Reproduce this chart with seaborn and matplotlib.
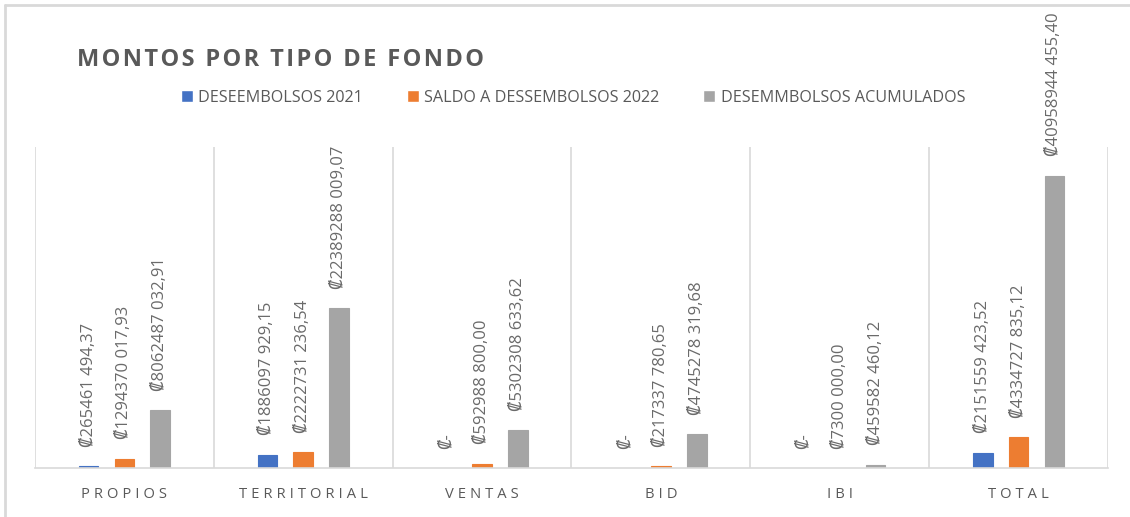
import pandas as pd
import matplotlib
matplotlib.use("Agg")
import matplotlib.pyplot as plt
import seaborn as sns
from matplotlib.lines import Line2D

# Data
categories = ["PROPIOS", "TERRITORIAL", "VENTAS", "BID", "IBI", "TOTAL"]
series = ["DESEEMBOLSOS 2021", "SALDO A DESSEMBOLSOS 2022", "DESEMMBOLSOS ACUMULADOS"]
desembolsos_2021 = [265461494.37, 1886097929.15, 0, 0, 0, 2151559423.52]
saldo_2022 = [1294370017.93, 2222731236.54, 592988800.00, 217337780.65, 7300000.00, 4334727835.12]
acumulados = [8062487032.91, 22389288009.07, 5302308633.62, 4745278319.68, 459582460.12, 40958944455.40]
colors = ["#4472C4", "#ED7D31", "#A5A5A5"]

TXT = "#595959"


def colones(v):
    # Excel style label: ₡265461 494,37
    if v == 0:
        return "\u20a1-"
    cents = int(round(v * 100))
    ent, dec = divmod(cents, 100)
    return f"\u20a1{ent // 1000} {ent % 1000:03d},{dec:02d}"


def spaced(s, sep="\u2009"):
    return sep.join(s)


df = pd.DataFrame({
    "cat": categories * 3,
    "serie": sum([[s] * len(categories) for s in series], []),
    "valor": desembolsos_2021 + saldo_2022 + acumulados,
})

sns.set_style("white")
plt.rcParams["font.family"] = ["Open Sans", "DejaVu Sans"]

fig = plt.figure(figsize=(11.3, 5.17), dpi=100)
ax = fig.add_axes([35 / 1130, 49 / 517, 1073 / 1130, 321 / 517])

sns.barplot(data=df, x="cat", y="valor", hue="serie", hue_order=series,
            order=categories, palette=colors, width=0.6, gap=0.45,
            saturation=1, legend=False, ax=ax)

# thin edge so very small bars still show
for cont in ax.containers:
    for bar in cont:
        if bar.get_height() > 1e8:
            bar.set_edgecolor(bar.get_facecolor())
            bar.set_linewidth(0.8)

ax.set_ylim(0, 45e9)
ax.set_xlim(-0.5, len(categories) - 0.5)
ax.set_xlabel("")
ax.set_ylabel("")
ax.set_yticks([])
ax.set_xticks(range(len(categories)))
ax.set_xticklabels([spaced(c, "\u2009\u200a") for c in categories], color=TXT, fontsize=10.6)
ax.tick_params(axis="x", length=0, pad=14)
for sp in ["top", "right", "left"]:
    ax.spines[sp].set_visible(False)
ax.spines["bottom"].set_color("#d9d9d9")
ax.spines["bottom"].set_linewidth(1.2)
for xv in [i - 0.5 for i in range(len(categories) + 1)]:
    ax.axvline(xv, color="#d9d9d9", lw=1.2, zorder=0)

# data labels
for cont, vals in zip(ax.containers, [desembolsos_2021, saldo_2022, acumulados]):
    for bar, v in zip(cont, vals):
        ax.annotate(colones(v), (bar.get_x() + bar.get_width() / 2, v),
                    xytext=(0, 14), textcoords="offset points",
                    rotation=90, ha="center", va="bottom",
                    color="#6a6a6a", fontsize=12, annotation_clip=False)

# title
fig.text(77 / 1130, 1 - 60 / 517, spaced("MONTOS POR TIPO DE FONDO", "\u200a"),
         fontsize=17, fontweight="bold", color=TXT, ha="left", va="center")

# legend
handles = [Line2D([0], [0], marker="s", color="w", markerfacecolor=c,
                  markersize=9, linestyle="") for c in colors]
fig.legend(handles, series, loc="center", bbox_to_anchor=(572 / 1130, 1 - 98 / 517),
           ncol=3, frameon=False, fontsize=11.6, labelcolor=TXT,
           handletextpad=0.2, columnspacing=2.6, handlelength=1.0)

# outer frame (only top and left visible)
fig.add_artist(Line2D([5 / 1130, 5 / 1130], [0, 1 - 5 / 517], color="#d9d9d9", lw=2))
fig.add_artist(Line2D([5 / 1130, 1], [1 - 5 / 517, 1 - 5 / 517], color="#d9d9d9", lw=2))

plt.savefig("out.png", dpi=100)
plt.close()
